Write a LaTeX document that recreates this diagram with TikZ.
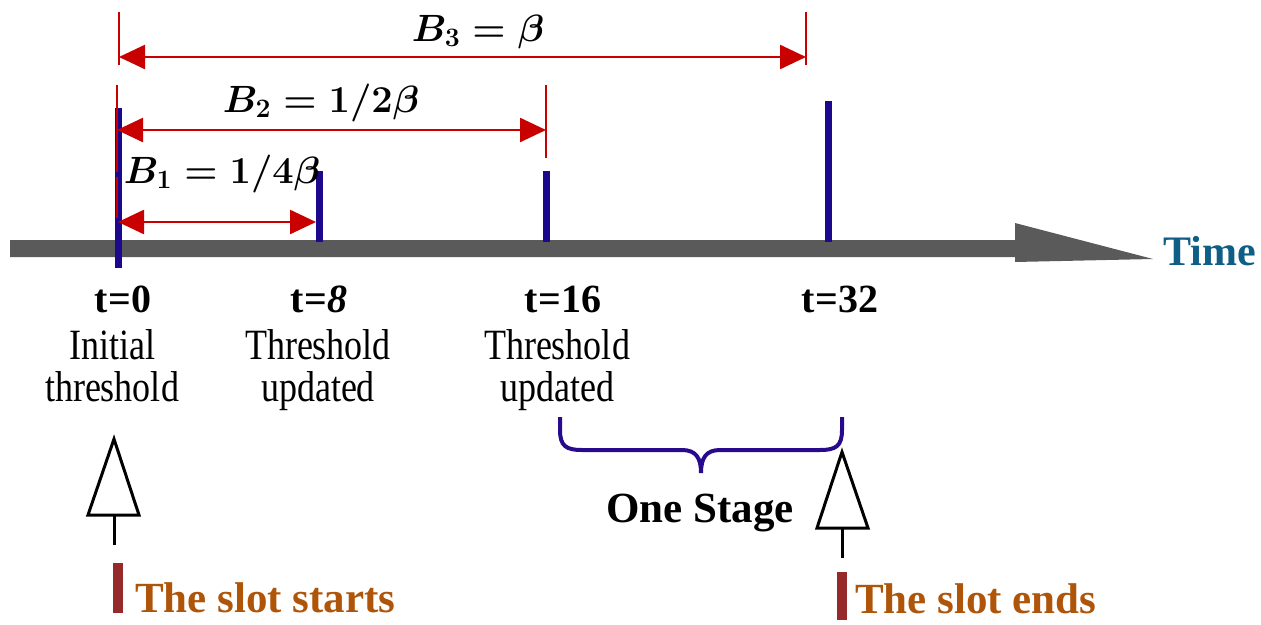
\RequirePackage{fix-cm}
\documentclass[tikz,border=0pt]{standalone}
\usepackage{fontspec}
\setmainfont{Liberation Serif}
\usetikzlibrary{arrows.meta}
\definecolor{tickblue}{RGB}{28,8,140}
\definecolor{dimred}{RGB}{200,0,0}
\definecolor{axisgray}{RGB}{90,90,90}
\definecolor{timeblue}{RGB}{14,94,134}
\definecolor{slotbrown}{RGB}{175,85,10}
\definecolor{slotbar}{RGB}{150,42,42}
\definecolor{bracenavy}{RGB}{40,10,140}
\begin{document}
\begin{tikzpicture}[x=1pt,y=-1pt,
  tick/.style={draw=tickblue,line width=7pt},
  dimline/.style={draw=dimred,line width=2.5pt,{Triangle[length=26pt,width=24pt]}-{Triangle[length=26pt,width=24pt]}},
  ext/.style={draw=dimred,line width=2pt},
  blab/.style={inner sep=0pt,font=\fontsize{38}{40}\selectfont\boldmath},
  tlab/.style={inner sep=0pt,font=\fontsize{40}{44}\selectfont\bfseries},
  desc/.style={inner sep=0pt,font=\fontsize{36}{34.2}\selectfont},
  hollow/.style={draw=black,line width=3pt,line join=miter},
  slotlab/.style={inner sep=0pt,text=slotbrown,font=\fontsize{43}{46}\selectfont\bfseries},
  slotbarst/.style={fill=slotbar,draw=none}
]
\useasboundingbox (0,0) rectangle (1261,624);

% time axis
\fill[axisgray] (10,240) -- (1015,240) -- (1015,223) -- (1153,259) -- (1015,262) -- (1015,257) -- (10,257) -- cycle;
\node[anchor=base west,inner sep=0pt,text=timeblue,font=\fontsize{42}{44}\selectfont\bfseries] (time) at (1163,265) {Time};

% ticks
\coordinate (k0t) at (118.5,108); \coordinate (k0b) at (118.5,268);
\coordinate (k8t) at (319.5,171); \coordinate (k8b) at (319.5,242);
\coordinate (k16t) at (546,171); \coordinate (k16b) at (546,242);
\coordinate (k32t) at (828,101); \coordinate (k32b) at (828,242);
\draw[tick] (k0t) -- (k0b);
\draw[tick] (k8t) -- (k8b);
\draw[tick] (k16t) -- (k16b);
\draw[tick] (k32t) -- (k32b);

% extension lines
\coordinate (e3lt) at (119,12); \coordinate (e3lb) at (119,65);
\coordinate (e3rt) at (806,12); \coordinate (e3rb) at (806,65);
\coordinate (e2lt) at (117,85); \coordinate (e2lm) at (117,172);
\coordinate (e2ln) at (117,177); \coordinate (e2lb) at (117,218);
\coordinate (e2rt) at (546,85); \coordinate (e2rb) at (546,158);
\draw[ext] (e3lt) -- (e3lb);
\draw[ext] (e3rt) -- (e3rb);
\draw[ext] (e2lt) -- (e2lm);
\draw[ext] (e2ln) -- (e2lb);
\draw[ext] (e2rt) -- (e2rb);

% dimension arrows
\coordinate (a3l) at (119,57); \coordinate (a3r) at (806,57);
\coordinate (a2l) at (117,130); \coordinate (a2r) at (546,130);
\coordinate (a1l) at (118,222); \coordinate (a1r) at (316,222);
\draw[dimline] (a3l) -- (a3r);
\draw[dimline] (a2l) -- (a2r);
\draw[dimline] (a1l) -- (a1r);

\node[blab,anchor=base] (b3) at (478,41) {$B_3=\beta$};
\node[blab,anchor=base] (b2) at (321,112) {$B_2=1/2\beta$};
\node[blab,anchor=base] (b1) at (222,183) {$B_1=1/4\beta$};

% time labels
\node[tlab,anchor=base] (t0) at (123,312) {t=0};
\node[tlab,anchor=base] (t8) at (319,312) {t=\textit{8}};
\node[tlab,anchor=base] (t16) at (563,312) {t=16};
\node[tlab,anchor=base] (t32) at (840,312) {t=32};

\node[desc,anchor=base] (d0) at (112,359) {\scalebox{1}[1.2]{\begin{tabular}[t]{@{}c@{}}Initial\\threshold\end{tabular}}};
\node[desc,anchor=base] (d8) at (318,359) {\scalebox{1}[1.2]{\begin{tabular}[t]{@{}c@{}}Threshold\\updated\end{tabular}}};
\node[desc,anchor=base] (d16) at (557,359) {\scalebox{1}[1.2]{\begin{tabular}[t]{@{}c@{}}Threshold\\updated\end{tabular}}};

% brace
\draw[bracenavy,line width=4pt] (560,417) -- (560,430) .. controls (560,446) and (566,450) .. (582,450) -- (682,450) .. controls (696,450) and (701,458) .. (701,473) .. controls (701,458) and (706,450) .. (720,450) -- (820,450) .. controls (836,450) and (842,446) .. (842,430) -- (842,417);
\node[anchor=base,inner sep=0pt,font=\fontsize{43}{46}\selectfont\bfseries] (stage) at (700,522) {One Stage};

% hollow arrows
\coordinate (s1apex) at (114,439); \coordinate (s1bl) at (88,515); \coordinate (s1br) at (139,515);
\coordinate (s1base) at (114,515); \coordinate (s1foot) at (114,545);
\draw[hollow] (s1apex) -- (s1br) -- (s1bl) -- cycle;
\draw[hollow] (s1base) -- (s1foot);
\coordinate (s2apex) at (842,452); \coordinate (s2bl) at (817,528); \coordinate (s2br) at (868,528);
\coordinate (s2base) at (842,528); \coordinate (s2foot) at (842,558);
\draw[hollow] (s2apex) -- (s2br) -- (s2bl) -- cycle;
\draw[hollow] (s2base) -- (s2foot);

% slot labels
\fill[slotbarst] (113,563) rectangle (123,613);
\node[slotlab,anchor=base west] (start) at (135,612) {The slot starts};
\fill[slotbarst] (837,572) rectangle (847,620);
\node[slotlab,anchor=base west] (end) at (855,613) {The slot ends};
\end{tikzpicture}
\end{document}
